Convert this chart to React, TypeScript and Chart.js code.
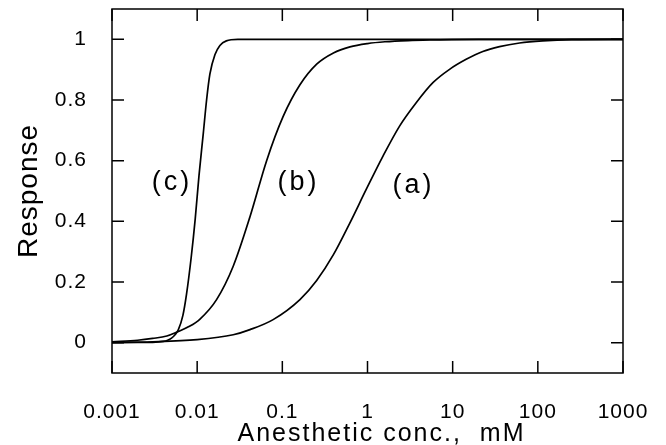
import React, { useEffect, useRef } from "react";
import { Chart, registerables } from "chart.js";

Chart.register(...registerables);

// ---- Data ----
const CONC_A = [0.001, 0.003, 0.01, 0.0265, 0.0417, 0.078, 0.161, 0.253, 0.398, 0.622, 0.966, 1.52, 2.38, 3.73, 5.86, 9.19, 14.4, 22.6, 35.5, 61, 114, 250, 1000];
const RESP_A = [0.001, 0.003, 0.01, 0.026, 0.043, 0.076, 0.142, 0.205, 0.29, 0.395, 0.505, 0.615, 0.714, 0.791, 0.857, 0.901, 0.934, 0.96, 0.976, 0.988, 0.995, 0.999, 1.0];

const CONC_B = [0.001, 0.002, 0.003, 0.0044, 0.0058, 0.008, 0.0108, 0.0169, 0.0265, 0.0417, 0.0654, 0.102, 0.161, 0.253, 0.398, 0.622, 1.0, 1.6, 3, 6, 20, 1000];
const RESP_B = [0.003, 0.008, 0.014, 0.022, 0.035, 0.053, 0.078, 0.142, 0.252, 0.415, 0.6, 0.745, 0.85, 0.918, 0.955, 0.975, 0.986, 0.992, 0.996, 0.998, 1.0, 1.0];

const CONC_C = [0.001, 0.002, 0.003, 0.004, 0.0045, 0.005, 0.0055, 0.006, 0.0068, 0.0075, 0.0085, 0.0095, 0.0105, 0.0118, 0.0129, 0.0141, 0.0162, 0.0185, 0.022, 0.03, 0.05, 1000];
const RESP_C = [0, 0.0005, 0.001, 0.004, 0.008, 0.015, 0.026, 0.042, 0.09, 0.16, 0.28, 0.41, 0.55, 0.69, 0.8, 0.885, 0.95, 0.98, 0.995, 1.0, 1.0, 1.0];

const X_TICK_VALUES = [0.001, 0.01, 0.1, 1, 10, 100, 1000];
const X_TICK_LABELS = ["0.001", "0.01", "0.1", "1", "10", "100", "1000"];
const Y_TICK_VALUES = [0, 0.2, 0.4, 0.6, 0.8, 1];
const Y_TICK_LABELS = ["0", "0.2", "0.4", "0.6", "0.8", "1"];

const CURVE_LABELS = ["(a)", "(b)", "(c)"];
const CURVE_LABEL_X = [3.47, 0.155, 0.00506];
const CURVE_LABEL_Y = [0.494, 0.503, 0.503];

const X_TITLE = "Anesthetic conc.,  mM";
const Y_TITLE = "Response";

const FONT = '"Liberation Sans", Arial, Helvetica, sans-serif';

const zip = (xs: number[], ys: number[]) => xs.map((x, i) => ({ x, y: ys[i] }));

const framePlugin = {
  id: "frameAndText",
  beforeDraw(chart: any) {
    (chart.ctx as any).letterSpacing = "1px";
  },
  afterDraw(chart: any) {
    const ctx = chart.ctx as CanvasRenderingContext2D & { letterSpacing?: string };
    const { left, right, top, bottom } = chart.chartArea;
    const xs = chart.scales.x;
    const ys = chart.scales.y;
    ctx.save();
    ctx.strokeStyle = "#000";
    ctx.lineWidth = 1.5;
    ctx.strokeRect(left, top, right - left, bottom - top);
    const T = 12;
    ctx.beginPath();
    xs.ticks.forEach((t: any) => {
      const px = xs.getPixelForValue(t.value);
      ctx.moveTo(px, bottom);
      ctx.lineTo(px, bottom - T);
      ctx.moveTo(px, top);
      ctx.lineTo(px, top + T);
    });
    ys.ticks.forEach((t: any) => {
      const py = ys.getPixelForValue(t.value);
      ctx.moveTo(left, py);
      ctx.lineTo(left + T, py);
      ctx.moveTo(right, py);
      ctx.lineTo(right - T, py);
    });
    ctx.stroke();

    ctx.fillStyle = "#000";
    // curve labels
    ctx.letterSpacing = "3px";
    ctx.font = `27px ${FONT}`;
    ctx.textAlign = "center";
    ctx.textBaseline = "alphabetic";
    CURVE_LABELS.forEach((txt, i) => {
      ctx.fillText(txt, xs.getPixelForValue(CURVE_LABEL_X[i]), ys.getPixelForValue(CURVE_LABEL_Y[i]));
    });

    // x title
    ctx.letterSpacing = "2px";
    ctx.font = `25px ${FONT}`;
    ctx.fillText(chart.options.scales.x.title.text, (left + right) / 2 + 14, 441);

    // y title
    ctx.letterSpacing = "1px";
    ctx.font = `28px ${FONT}`;
    ctx.translate(37, (top + bottom) / 2);
    ctx.rotate(-Math.PI / 2);
    ctx.fillText(chart.options.scales.y.title.text, 0, 0);
    ctx.restore();
  },
};

const zeroPad = (scale: any) => {
  scale.paddingTop = 0;
  scale.paddingBottom = 0;
  scale.paddingLeft = 0;
  scale.paddingRight = 0;
};

export default function App() {
  const ref = useRef<HTMLCanvasElement>(null);
  useEffect(() => {
    const datasets = [
      { label: "(a)", data: zip(CONC_A, RESP_A) },
      { label: "(b)", data: zip(CONC_B, RESP_B) },
      { label: "(c)", data: zip(CONC_C, RESP_C) },
    ].map((d) => ({
      ...d,
      borderColor: "#000",
      backgroundColor: "#000",
      borderWidth: 1.7,
      pointRadius: 0,
      fill: false,
      cubicInterpolationMode: "monotone" as const,
    }));

    const chart = new Chart(ref.current!, {
      type: "line",
      data: { datasets },
      plugins: [framePlugin],
      options: {
        animation: false,
        responsive: false,
        devicePixelRatio: 1,
        layout: { padding: { left: 0, top: 9, right: 43, bottom: 0 } },
        plugins: { legend: { display: false }, tooltip: { enabled: false } },
        scales: {
          x: {
            type: "logarithmic",
            min: 0.001,
            max: 1000,
            grid: { display: false },
            border: { display: false },
            title: { display: false, text: X_TITLE },
            afterBuildTicks: (scale: any) => {
              scale.ticks = X_TICK_VALUES.map((v) => ({ value: v }));
            },
            afterFit: (scale: any) => {
              scale.height = 72;
              zeroPad(scale);
            },
            ticks: {
              autoSkip: false,
              maxRotation: 0,
              padding: 19,
              color: "#000",
              font: { family: FONT, size: 21 },
              callback: (_v: any, i: number) => X_TICK_LABELS[i],
            },
          },
          y: {
            type: "linear",
            min: -0.1,
            max: 1.1,
            grid: { display: false },
            border: { display: false },
            title: { display: false, text: Y_TITLE },
            afterBuildTicks: (scale: any) => {
              scale.ticks = Y_TICK_VALUES.map((v) => ({ value: v }));
            },
            afterFit: (scale: any) => {
              scale.width = 112;
              zeroPad(scale);
            },
            ticks: {
              padding: 17,
              color: "#000",
              font: { family: FONT, size: 21 },
              callback: (_v: any, i: number) => Y_TICK_LABELS[i],
            },
          },
        },
      } as any,
    });
    return () => chart.destroy();
  }, []);

  return (
    <div style={{ position: "absolute", left: 0, top: 0, width: 666, height: 445, background: "#fff" }}>
      <canvas ref={ref} width={666} height={445} style={{ display: "block" }} />
    </div>
  );
}
